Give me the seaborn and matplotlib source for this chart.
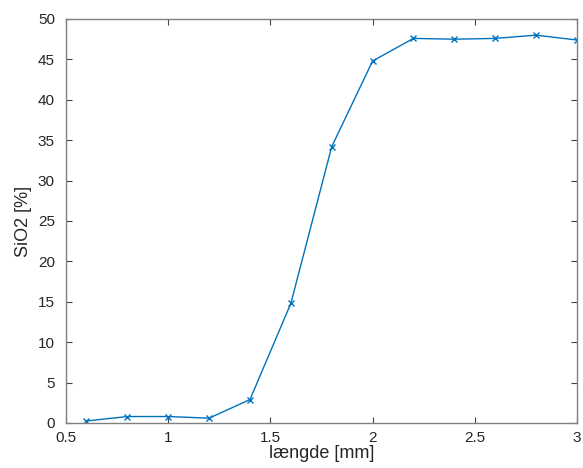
import matplotlib
matplotlib.use("Agg")
import matplotlib.pyplot as plt
import seaborn as sns
import pandas as pd

laengde = [0.6, 0.8, 1.0, 1.2, 1.4, 1.6, 1.8, 2.0, 2.2, 2.4, 2.6, 2.8, 3.0]
sio2 = [0.25, 0.8, 0.8, 0.6, 2.9, 14.8, 34.2, 44.8, 47.6, 47.5, 47.6, 48.0, 47.4]
xticks = [0.5, 1, 1.5, 2, 2.5, 3]
xticklabels = ["0.5", "1", "1.5", "2", "2.5", "3"]
yticks = [0, 5, 10, 15, 20, 25, 30, 35, 40, 45, 50]

sns.set_style("white")
plt.rcParams['font.family'] = ['Liberation Sans', 'DejaVu Sans']

color = "#0072BD"
df = pd.DataFrame({"x": laengde, "y": sio2})
fig = plt.figure(figsize=(5.83, 4.68), dpi=100)
ax = fig.add_axes([66/583, 45/468, 511/583, 404/468])
sns.lineplot(data=df, x="x", y="y", ax=ax, color=color, marker="x",
             markersize=5, markeredgewidth=1.0, markeredgecolor=color,
             markerfacecolor=color, linewidth=1.0)
ax.set_xlim(0.5, 3)
ax.set_ylim(0, 50)
ax.set_xticks(xticks)
ax.set_xticklabels(xticklabels)
ax.set_yticks(yticks)
ax.tick_params(direction="in", length=4, width=0.8, colors="#444444",
               labelcolor="#262626", labelsize=11, top=True, right=True,
               left=True, bottom=True)
ax.tick_params(axis="x", pad=6)
ax.tick_params(axis="y", pad=8)
for s in ax.spines.values():
    s.set_visible(True)
    s.set_color("#808080")
    s.set_linewidth(1.0)
ax.set_xlabel("længde [mm]", fontsize=13, color="#262626", labelpad=0)
ax.set_ylabel("SiO2 [%]", fontsize=13, color="#262626", labelpad=4)
fig.savefig("out.png", dpi=100)
